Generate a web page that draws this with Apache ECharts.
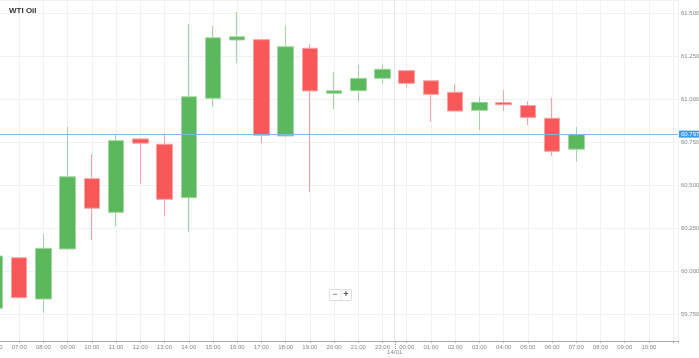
<!DOCTYPE html>
<html>
<head>
<meta charset="utf-8">
<script src="https://cdn.jsdelivr.net/npm/echarts@6/dist/echarts.min.js"></script>
<style>html,body{margin:0;padding:0;background:#fff}#c{width:699px;height:358px}</style>
</head>
<body>
<div id="c"></div>
<script>
// Tick labels (hourly slots, 22:00 is a market break)
const categories = ['06:00','07:00','08:00','09:00','10:00','11:00','12:00','13:00','14:00','15:00','16:00','17:00','18:00','19:00','20:00','21:00','23:00','00:00','01:00','02:00','03:00','04:00','05:00','06:00','07:00','08:00','09:00','10:00'];
// OHLC per candle (candle i sits on categories[i])
const openVals  = [59.787,60.081,59.841,60.132,60.541,60.345,60.772,60.741,60.430,61.008,61.347,61.349,60.789,61.299,61.037,61.052,61.124,61.169,61.110,61.043,60.938,60.983,60.966,60.892,60.712];
const closeVals = [60.091,59.849,60.136,60.552,60.369,60.762,60.747,60.421,61.017,61.360,61.366,60.793,61.308,61.051,61.052,61.124,61.177,61.095,61.031,60.934,60.985,60.971,60.897,60.700,60.797];
const lowVals   = [59.770,59.845,59.762,60.130,60.184,60.262,60.514,60.324,60.233,60.959,61.212,60.750,60.783,60.462,60.946,60.988,61.090,61.072,60.872,60.931,60.824,60.934,60.853,60.673,60.640];
const highVals  = [60.110,60.083,60.219,60.843,60.683,60.795,60.779,60.801,61.440,61.430,61.510,61.350,61.430,61.322,61.163,61.202,61.202,61.170,61.112,61.091,61.017,61.056,60.992,61.012,60.841];
const currentPrice = 60.797;
const dayBreakPos = 16.5;
const dayLabel = '14/01';
const yTicks = [59.75, 60.0, 60.25, 60.5, 60.75, 61.0, 61.25, 61.5];

const candles = openVals.map((o, i) => [i, o, closeVals[i], lowVals[i], highVals[i]]);
const FONT = 'Liberation Sans, Arial, sans-serif';

const chart = echarts.init(document.getElementById('c'), null, {renderer: 'canvas'});
chart.setOption({
  animation: false,
  backgroundColor: '#fff',
  title: {
    text: 'WTI Oil', left: 9, top: 7, padding: 0,
    textStyle: {fontSize: 8, fontWeight: 'bold', color: '#333', fontFamily: FONT}
  },
  grid: {left: -5, right: 21, top: 0, bottom: 17, containLabel: false, outerBoundsMode: 'none'},
  xAxis: {
    type: 'value',
    min: 0, max: 28.2,
    interval: 1,
    axisLine: {show: true, lineStyle: {color: '#aaa', width: 1}},
    axisTick: {show: true, length: 2, lineStyle: {color: '#aaa'}},
    axisLabel: {
      fontSize: 6, color: '#888', fontFamily: FONT, margin: 3,
      showMinLabel: true, showMaxLabel: true, hideOverlap: false,
      formatter: v => {
        const r = Math.round(v);
        return (Math.abs(v - r) < 1e-6 && categories[r]) ? categories[r] : '';
      }
    },
    splitLine: {show: true, lineStyle: {color: '#f1f1f1', width: 1}}
  },
  yAxis: {
    type: 'value', position: 'right',
    min: 59.597, max: 61.5797,
    minInterval: 0.25, maxInterval: 0.25,
    scale: true,
    axisLine: {show: true, lineStyle: {color: '#aaa', width: 1}},
    axisTick: {show: true, length: 2, lineStyle: {color: '#aaa'}},
    axisLabel: {
      fontSize: 6, color: '#888', fontFamily: FONT, margin: 3,
      formatter: v => {
        const hit = yTicks.find(t => Math.abs(t - v) < 1e-6);
        return hit !== undefined ? hit.toFixed(3) : '';
      }
    },
    splitLine: {show: true, lineStyle: {color: '#f1f1f1', width: 1}}
  },
  series: [{
    type: 'candlestick',
    barWidth: 16,
    encode: {x: 0, y: [1, 2, 3, 4]},
    data: candles,
    itemStyle: {
      color: '#5cb85c', color0: '#f95858',
      borderColor: '#a3d6a3', borderColor0: '#f9a3a3', borderWidth: 1
    },
    markLine: {
      silent: true, symbol: 'none', animation: false,
      data: [
        {
          yAxis: currentPrice,
          lineStyle: {color: '#7ab8ea', width: 1, type: 'solid'},
          label: {
            show: true, position: 'end', distance: 1,
            formatter: () => currentPrice.toFixed(3),
            color: '#fff', backgroundColor: '#3d9ae8', fontSize: 6,
            fontFamily: FONT, padding: [1, 2, 0, 2]
          }
        },
        {
          xAxis: dayBreakPos,
          lineStyle: {color: '#e6e6e6', width: 1, type: 'solid'},
          label: {
            show: true, position: 'start', distance: 8,
            formatter: () => dayLabel,
            color: '#888', fontSize: 6, fontFamily: FONT
          }
        }
      ]
    }
  }]
});

// Decorations: dotted day separator under the axis, zoom control
const dx = Math.round(chart.convertToPixel({xAxisIndex: 0}, dayBreakPos)) + 0.5;
const ay = chart.convertToPixel({yAxisIndex: 0}, 59.597);
chart.setOption({
  graphic: [
    {type: 'line', shape: {x1: dx, y1: ay + 1, x2: dx, y2: ay + 9},
     style: {stroke: '#999', lineWidth: 1, lineDash: [1, 1]}, silent: true},
    {type: 'group', left: 329, top: 287, children: [
      {type: 'rect', shape: {x: 0, y: 0, width: 22, height: 11, r: 1},
       style: {fill: '#fff', stroke: '#ddd', lineWidth: 1}},
      {type: 'line', shape: {x1: 11.5, y1: 0, x2: 11.5, y2: 11}, style: {stroke: '#e5e5e5', lineWidth: 1}},
      {type: 'text', x: 5.5, y: 5.5, style: {text: '−', fontSize: 9, fill: '#555', align: 'center', verticalAlign: 'middle', fontFamily: FONT}},
      {type: 'text', x: 16.5, y: 5.5, style: {text: '+', fontSize: 9, fill: '#555', align: 'center', verticalAlign: 'middle', fontFamily: FONT, fontWeight: 'bold'}}
    ]}
  ]
});
</script>
</body>
</html>
